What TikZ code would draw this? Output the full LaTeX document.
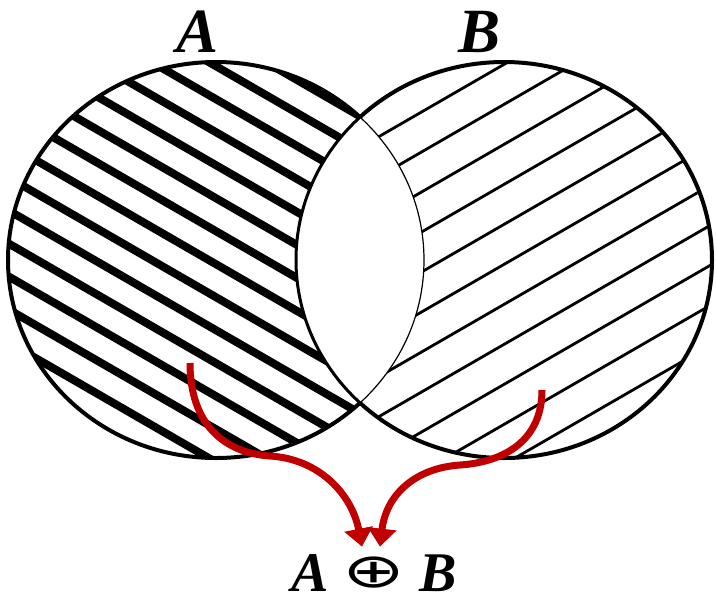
\documentclass[tikz,border=0pt]{standalone}
\usepackage{fontspec}
\setmainfont{Liberation Serif}
\newfontfamily\symfont{DejaVu Sans}
\usepackage{graphicx}
\usetikzlibrary{arrows.meta,positioning}
\definecolor{vnRed}{HTML}{C00000}
\def\setApath{(216,260) ellipse [x radius=208, y radius=198]}
\def\setBpath{(504,260) ellipse [x radius=208, y radius=198]}
\tikzset{
  setlabel/.style={font=\fontsize{31.5}{34}\selectfont\bfseries\itshape, inner sep=0pt, anchor=base},
  resultlabel/.style={font=\fontsize{28}{30}\selectfont\bfseries\itshape, inner sep=0pt, anchor=base},
  thickhatch/.style={line width=4pt, black},
  thinhatch/.style={line width=1.4pt, black},
  setborder/.style={line width=2pt, black},
  lensedge/.style={line width=1.5pt, black},
  xorarrow/.style={-{Triangle[length=9pt,width=14pt]}, line width=3.5pt, vnRed}
}
\begin{document}
\begin{tikzpicture}[x=0.5pt, y=-0.5pt]
  \useasboundingbox (0,0) rectangle (717,596);
  % A only: thick lines falling to the right
  \begin{scope}[even odd rule]
    \clip \setApath \setBpath;
    \clip \setApath;
    \foreach \c in {-223.5,-190.5,...,480}
      \draw[thickhatch] (0,\c) -- (720,\c+415.7);
  \end{scope}
  % B only: thin lines rising to the right
  \begin{scope}[even odd rule]
    \clip \setApath \setBpath;
    \clip \setBpath;
    \foreach \c in {195.4,235.4,...,900}
      \draw[thinhatch] (280,\c-161.7) -- (720,\c-415.7);
  \end{scope}
  % outer borders
  \begin{scope}[even odd rule]
    \clip (-10,-10) rectangle (730,610) \setBpath;
    \draw[setborder] \setApath;
  \end{scope}
  \begin{scope}[even odd rule]
    \clip (-10,-10) rectangle (730,610) \setApath;
    \draw[setborder] \setBpath;
  \end{scope}
  % edges of the white lens
  \begin{scope}
    \clip \setApath;
    \draw[lensedge] \setBpath;
  \end{scope}
  \begin{scope}
    \clip \setBpath;
    \draw[line width=0.6pt] \setApath;
  \end{scope}

  \node[setlabel] (labA) at (198,52) {A};
  \node[setlabel] (labB) at (480,52) {B};
  \node[resultlabel] (xor) at (374,591)
    {A \raisebox{1.7pt}{\scalebox{1.34}[0.85]{\symfont\mdseries\upshape ⊕}} B};

  \coordinate (srcA) at (190,363);
  \coordinate (srcB) at (542,390);
  \coordinate (tipA) at ([xshift=-6pt, yshift=3.5pt]xor.north);
  \coordinate (tipB) at ([xshift=3pt, yshift=3.5pt]xor.north);
  \draw[xorarrow] (srcA) .. controls (190,425) and (225,453) .. (270,456)
    .. controls (320,459) and (352,495) .. (tipA);
  \draw[xorarrow] (srcB) .. controls (542,440) and (505,462) .. (460,465)
    .. controls (415,468) and (386,495) .. (tipB);
\end{tikzpicture}
\end{document}
